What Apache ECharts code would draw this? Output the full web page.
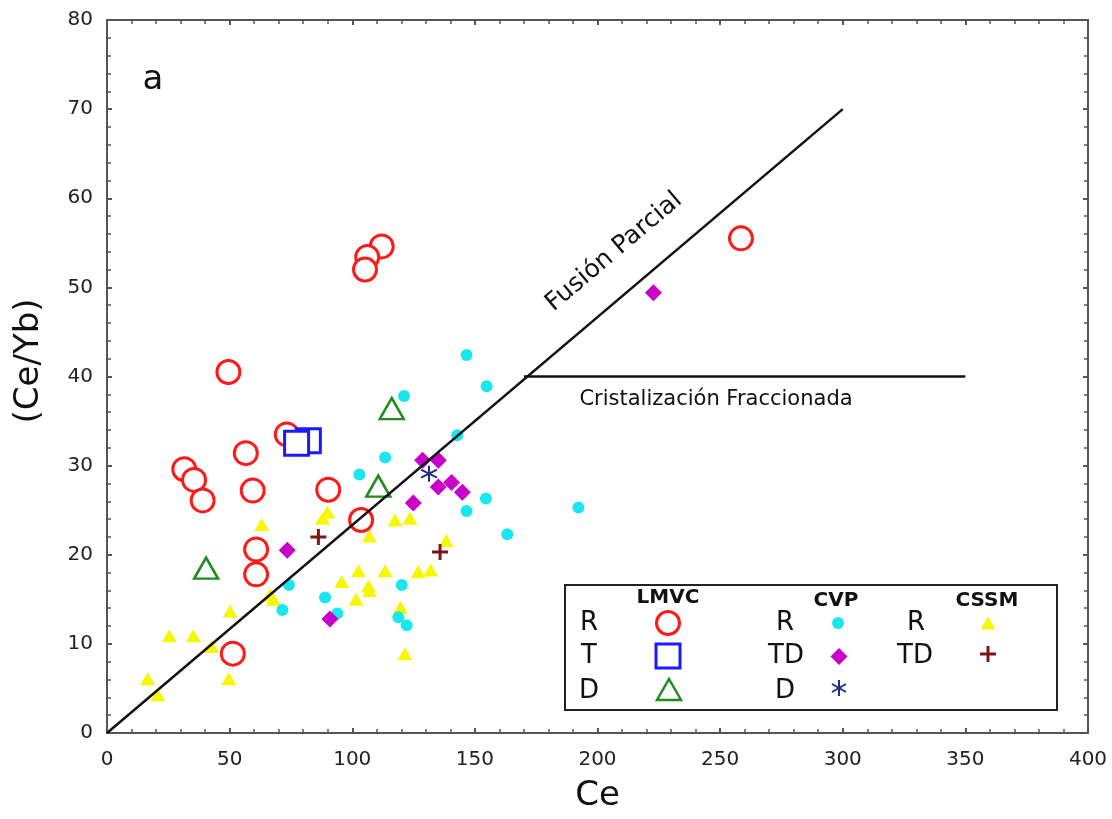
<!DOCTYPE html>
<html>
<head>
<meta charset="utf-8">
<title>Ce vs Ce/Yb</title>
<script src="https://cdn.jsdelivr.net/npm/echarts@6/dist/echarts.min.js"></script>
<style>
html, body { margin: 0; padding: 0; background: #fff; }
#chart { width: 1112px; height: 819px; }
</style>
</head>
<body>
<div id="chart"></div>
<script>
// LMVC: R, T, D
const lmvcR = [[112.0, 54.6], [106.1, 53.4], [105.2, 52.0], [258.5, 55.5], [49.5, 40.5], [73.3, 33.5],
  [31.5, 29.6], [35.5, 28.4], [39.0, 26.1], [56.6, 31.4], [59.4, 27.2], [90.2, 27.3],
  [103.6, 23.9], [60.8, 20.6], [60.8, 17.8], [51.3, 8.9]];
const lmvcT = [[82.1, 32.8], [77.3, 32.5]];
const lmvcD = [[116.1, 36.4], [110.6, 27.7], [40.4, 18.5]];

// CVP: R, TD, D
const cvpR = [[146.6, 42.4], [154.8, 38.9], [121.1, 37.8], [142.8, 33.4], [113.4, 30.9], [102.9, 29.0],
  [154.5, 26.3], [146.6, 24.9], [192.2, 25.3], [163.2, 22.3], [120.2, 16.6], [118.8, 13.0],
  [122.2, 12.1], [74.2, 16.6], [71.5, 13.8], [88.9, 15.2], [93.9, 13.4]];
const cvpTD = [[222.8, 49.4], [128.7, 30.6], [135.1, 30.6], [135.1, 27.6], [140.5, 28.1], [144.9, 27.0],
  [124.9, 25.8], [73.5, 20.5], [90.9, 12.8]];
const cvpD = [[131.3, 29.1]];

// CSSM: R, TD
const cssmR = [[63.1, 23.4], [87.9, 24.1], [90.0, 24.8], [117.4, 23.9], [123.5, 24.1], [107.0, 22.1],
  [138.3, 21.6], [102.5, 18.2], [113.4, 18.2], [126.9, 18.1], [132.0, 18.3], [95.7, 17.0],
  [106.6, 16.5], [107.0, 16.0], [101.5, 15.0], [119.7, 14.1], [121.5, 8.9], [66.5, 15.5],
  [67.8, 15.0], [50.2, 13.7], [25.4, 10.9], [35.2, 10.9], [42.7, 9.7], [49.7, 6.1],
  [16.6, 6.1], [20.7, 4.3]];
const cssmTD = [[86.2, 22.0], [135.8, 20.3]];

// trend lines
const fusionLine = [[0, 0], [300, 70]];
const fraccLine = [[170, 40], [350, 40]];

const xRange = [0, 400, 50];
const yRange = [0, 80, 10];

const font = '"DejaVu Sans", sans-serif';
const axisColor = '#555';

const plusPath = 'path://M5,0L5,10M0,5L10,5';
const starPath = 'path://M5,0L5,10M0.7,2.5L9.3,7.5M9.3,2.5L0.7,7.5';

const makeAxis = (range, pos, dim) => ({
  type: 'value',
  position: pos,
  min: range[0],
  max: range[1],
  interval: range[2],
  axisLine: { show: true, onZero: false, lineStyle: { color: axisColor, width: 2 } },
  axisTick: { show: true, inside: true, length: 5, lineStyle: { color: axisColor, width: 2 } },
  minorTick: { show: true, splitNumber: 5, length: 4, lineStyle: { color: axisColor, width: 1.5 } },
  axisLabel: {
    show: pos === 'bottom' || pos === 'left',
    fontSize: 20, color: '#222', fontFamily: font,
    margin: dim === 'x' ? 17 : 14
  },
  splitLine: { show: false }
});

const txt = (x, y, s, size, bold) => ({
  type: 'text', x: x, y: y, silent: true,
  style: {
    text: s, fontSize: size, fontFamily: font, fontWeight: bold ? 'bold' : 'normal',
    fill: '#111', align: 'center', verticalAlign: 'middle'
  }
});

const seg = (x1, y1, x2, y2, color, w) => ({
  type: 'line', silent: true,
  shape: { x1: x1, y1: y1, x2: x2, y2: y2 },
  style: { stroke: color, lineWidth: w }
});

// legend box drawn by hand
const legend = [
  { type: 'rect', silent: true, shape: { x: 565, y: 585, width: 492, height: 125 },
    style: { fill: '#fff', stroke: '#222', lineWidth: 2 } },
  txt(668, 598, 'LMVC', 20, true),
  txt(836, 601, 'CVP', 20, true),
  txt(987, 601, 'CSSM', 20, true),
  txt(589, 623, 'R', 26), txt(589, 656, 'T', 26), txt(589, 691, 'D', 26),
  txt(785, 623, 'R', 26), txt(786, 656, 'TD', 26), txt(785, 691, 'D', 26),
  txt(916, 623, 'R', 26), txt(915, 656, 'TD', 26),
  { type: 'circle', silent: true, shape: { cx: 668, cy: 623, r: 11.5 },
    style: { fill: '#fff', stroke: '#ff1a1a', lineWidth: 3 } },
  { type: 'rect', silent: true, shape: { x: 656, y: 644, width: 24, height: 24 },
    style: { fill: '#fff', stroke: '#1a1aff', lineWidth: 3 } },
  { type: 'polygon', silent: true, shape: { points: [[669, 679], [681, 700], [657, 700]] },
    style: { fill: 'none', stroke: '#1e8c1e', lineWidth: 2.5 } },
  { type: 'circle', silent: true, shape: { cx: 838, cy: 623, r: 6 }, style: { fill: '#19e6ee' } },
  { type: 'polygon', silent: true, shape: { points: [[839, 648], [847.5, 656.5], [839, 665], [830.5, 656.5]] },
    style: { fill: '#c800c8' } },
  seg(839, 680, 839, 696, '#1f2d86', 2),
  seg(832, 684, 846, 692, '#1f2d86', 2),
  seg(846, 684, 832, 692, '#1f2d86', 2),
  { type: 'polygon', silent: true, shape: { points: [[988, 616.5], [995.5, 629.5], [980.5, 629.5]] },
    style: { fill: '#f7f700' } },
  seg(988, 646, 988, 662, '#7e1414', 3),
  seg(980, 654, 996, 654, '#7e1414', 3)
];

const scatter = (name, data, symbol, size, itemStyle) => ({
  name: name, type: 'scatter', data: data, symbol: symbol, symbolSize: size,
  itemStyle: Object.assign({ opacity: 1 }, itemStyle), silent: true
});

const lineSeries = (data) => ({
  type: 'line', data: data, symbol: 'none', silent: true,
  lineStyle: { color: '#111', width: 2.5 }
});

const myChart = echarts.init(document.getElementById('chart'), null, { renderer: 'canvas' });

const option = {
  animation: false,
  backgroundColor: '#fff',
  grid: { left: 107, right: 24, top: 20, bottom: 86 },
  xAxis: [
    Object.assign(makeAxis(xRange, 'bottom', 'x'), {
      name: 'Ce', nameLocation: 'middle', nameGap: 46,
      nameTextStyle: { fontSize: 34, color: '#111', fontFamily: font }
    }),
    makeAxis(xRange, 'top', 'x')
  ],
  yAxis: [makeAxis(yRange, 'left', 'y'), makeAxis(yRange, 'right', 'y')],
  series: [
    lineSeries(fusionLine),
    lineSeries(fraccLine),
    scatter('CSSM R', cssmR, 'triangle', [15, 13], { color: '#f7f700' }),
    scatter('CSSM TD', cssmTD, plusPath, 16, { color: 'none', borderColor: '#7e1414', borderWidth: 3 }),
    scatter('CVP R', cvpR, 'circle', 12, { color: '#19e6ee' }),
    scatter('CVP TD', cvpTD, 'diamond', 17, { color: '#c800c8' }),
    scatter('CVP D', cvpD, starPath, 16, { color: 'none', borderColor: '#1f2d86', borderWidth: 2 }),
    scatter('LMVC D', lmvcD, 'triangle', [24, 21], { color: 'transparent', borderColor: '#1e8c1e', borderWidth: 2.5 }),
    scatter('LMVC R', lmvcR, 'circle', 23, { color: '#fff', borderColor: '#ff1a1a', borderWidth: 3 }),
    scatter('LMVC T', lmvcT, 'rect', 24, { color: '#fff', borderColor: '#1a1aff', borderWidth: 3 })
  ],
  graphic: [
    txt(153, 80, 'a', 34),
    Object.assign(txt(29, 361, '(Ce/Yb)', 34), { rotation: Math.PI / 2 }),
    Object.assign(txt(614, 252, 'Fusión Parcial', 25), { rotation: 0.703 }),
    txt(716, 400, 'Cristalización Fraccionada', 21)
  ].concat(legend)
};

myChart.setOption(option);
</script>
</body>
</html>
